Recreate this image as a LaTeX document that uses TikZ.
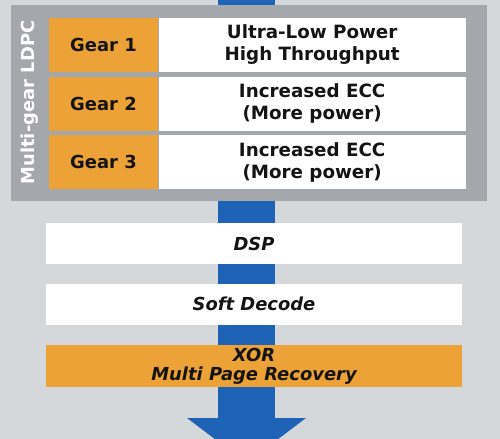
\documentclass[tikz,border=0pt]{standalone}
\usepackage{fontspec}
\setmainfont{DejaVu Sans}
\usetikzlibrary{positioning,arrows.meta}
\definecolor{bg-gray}{HTML}{D5D8DB}
\definecolor{panel-gray}{HTML}{A4A7AB}
\definecolor{gear-orange}{HTML}{ECA236}
\definecolor{flow-blue}{HTML}{1F63B6}
\definecolor{ink}{HTML}{141414}
\tikzset{
    gear-box/.style = {fill=gear-orange, rectangle, inner sep=0pt, minimum width=2.18cm, minimum height=1.08cm, text=ink, font=\fontsize{10.2}{12.5}\selectfont\bfseries},
    mode-box/.style = {fill=white, rectangle, inner sep=0pt, minimum width=6.14cm, minimum height=1.08cm, align=center, text=ink, font=\fontsize{10.4}{12.5}\selectfont\bfseries},
    stage-box/.style = {fill=white, rectangle, inner sep=0pt, minimum width=8.32cm, minimum height=0.82cm, align=center, text=ink, font=\fontsize{10.2}{10.6}\selectfont\bfseries\itshape},
}

\begin{document}
\begin{tikzpicture}[x=0.02cm, y=-0.02cm]
\useasboundingbox (0,0) rectangle (500,439);
\fill[bg-gray] (0,0) rectangle (500,439);

% flow arrow behind everything
\coordinate (flow-start) at (246.5,-10);
\coordinate (flow-end) at (246.5,463);
\draw[flow-blue, line width=1.14cm, -{Triangle[width=2.38cm, length=0.9cm, line width=0pt]}] (flow-start) -- (flow-end);

% LDPC panel
\fill[panel-gray] (11,5) rectangle (487,201);
\node[rotate=90, text=white, font=\fontsize{10.2}{12}\selectfont\bfseries] (ldpc-label) at (30,102.5) {Multi-gear LDPC};

\node[gear-box] (gear1) at (103.5,45) {Gear 1};
\node[gear-box, below=0.08cm of gear1] (gear2) {Gear 2};
\node[gear-box, below=0.08cm of gear2] (gear3) {Gear 3};
\node[mode-box, right=0pt of gear1] (mode1) {Ultra-Low Power\\High Throughput};
\node[mode-box, right=0pt of gear2] (mode2) {Increased ECC\\(More power)};
\node[mode-box, right=0pt of gear3] (mode3) {Increased ECC\\(More power)};

% decode stages
\node[stage-box] (dsp) at (254,243.5) {DSP};
\node[stage-box, below=0.38cm of dsp] (soft) {Soft Decode};
\node[stage-box, fill=gear-orange, minimum height=0.84cm, below=0.4cm of soft] (xor) {XOR\\Multi Page Recovery};
\end{tikzpicture}
\end{document}
